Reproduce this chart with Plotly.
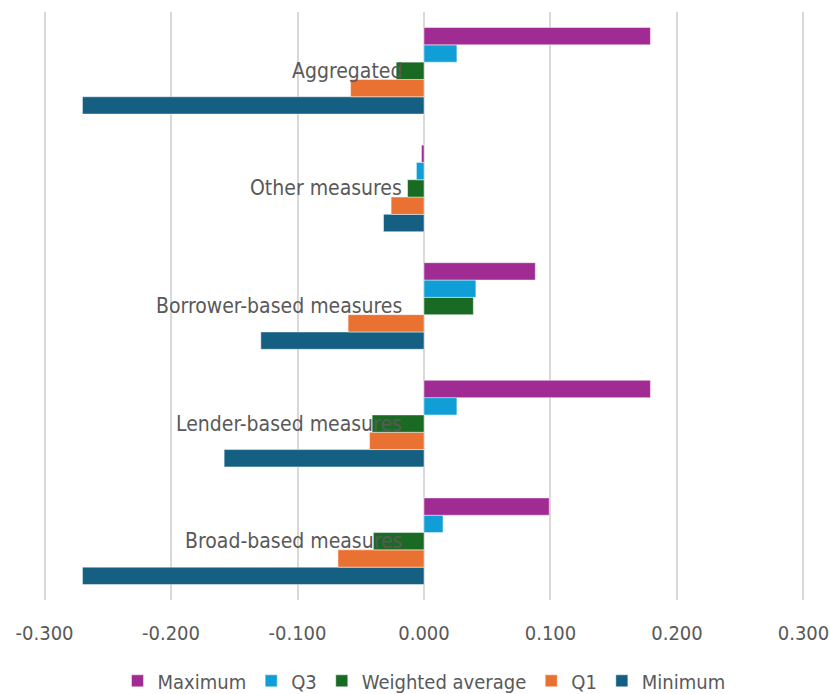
import plotly.graph_objects as go

categories = ["Broad-based measures", "Lender-based measures", "Borrower-based measures",
              "Other measures", "Aggregated"]
maximum = [0.099, 0.179, 0.088, -0.002, 0.179]
q3 = [0.015, 0.026, 0.041, -0.006, 0.026]
weighted_avg = [-0.040, -0.041, 0.039, -0.013, -0.022]
q1 = [-0.068, -0.043, -0.060, -0.026, -0.058]
minimum = [-0.270, -0.158, -0.129, -0.032, -0.270]

tick_vals = [-0.3, -0.2, -0.1, 0.0, 0.1, 0.2, 0.3]
tick_text = ["-0.300", "-0.200", "-0.100", "0.000", "0.100", "0.200", "0.300"]

series = [
    ("Minimum", minimum, "#156082"),
    ("Q1", q1, "#E97132"),
    ("Weighted average", weighted_avg, "#196B24"),
    ("Q3", q3, "#0F9ED5"),
    ("Maximum", maximum, "#A02B93"),
]

font_family = "Liberation Sans Narrow, DejaVu Sans Condensed, Arial Narrow, sans-serif"

fig = go.Figure()
for name, vals, color in series:
    fig.add_trace(go.Bar(
        y=categories, x=vals, name=name, orientation="h",
        marker=dict(color=color, line=dict(color="rgba(255,255,255,0.6)", width=0.75)),
    ))

for cat in categories:
    fig.add_annotation(x=0, y=cat, xref="x", yref="y", text=cat, showarrow=False,
                       xanchor="right", yanchor="middle", xshift=-20,
                       font=dict(size=21, color="#595959", family=font_family))

fig.update_layout(
    width=830, height=694,
    margin=dict(l=42, r=24, t=12, b=94, autoexpand=False),
    barmode="group", bargap=0.264, bargroupgap=0,
    plot_bgcolor="white", paper_bgcolor="white",
    font=dict(family=font_family, size=20, color="#595959"),
    showlegend=True,
    legend=dict(orientation="h", traceorder="reversed", x=0.5, xanchor="center",
                yref="container", y=0.019, yanchor="middle",
                font=dict(size=20, color="#595959"), itemwidth=30),
    xaxis=dict(range=[-0.302, 0.302], tickvals=tick_vals, ticktext=tick_text,
               automargin=False, ticklabeloverflow="allow",
               showgrid=True, gridcolor="#D9D9D9", gridwidth=1.5,
               zeroline=True, zerolinecolor="#D9D9D9", zerolinewidth=1.5,
               showline=False, ticks="outside", ticklen=15, tickcolor="rgba(0,0,0,0)",
               tickfont=dict(size=20, color="#595959")),
    yaxis=dict(showticklabels=False, showgrid=False, zeroline=False, showline=False,
               automargin=False,
               categoryorder="array", categoryarray=categories),
)

fig.write_html("out.html")
